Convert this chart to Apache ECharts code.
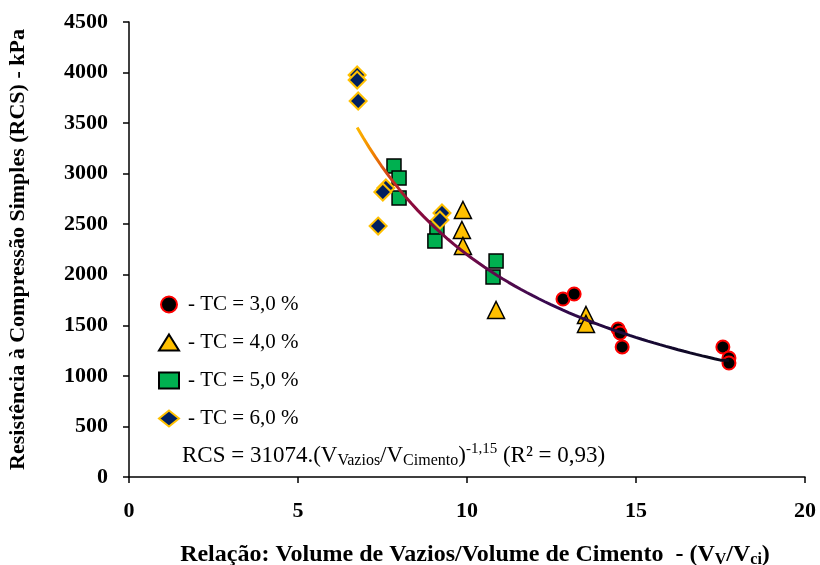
<!DOCTYPE html>
<html>
<head>
<meta charset="utf-8">
<script src="https://cdn.jsdelivr.net/npm/echarts@6/dist/echarts.min.js"></script>
<style>
  html, body { margin: 0; padding: 0; background: #fff; }
  #chart { width: 820px; height: 565px; }
</style>
</head>
<body>
<div id="chart"></div>
<script>
// Cement content series: [Vv/Vci, RCS (kPa)]
const tc3 = [[12.84, 1760], [13.17, 1810], [14.47, 1464], [14.53, 1424], [14.59, 1286],
             [17.57, 1286], [17.75, 1177], [17.75, 1127]];
const tc4 = [[9.88, 2641], [9.85, 2443], [9.88, 2285], [10.86, 1652], [13.52, 1602], [13.52, 1513]];
const tc5 = [[7.84, 3076], [7.99, 2957], [7.99, 2759], [9.11, 2463], [9.05, 2334],
             [10.86, 2136], [10.77, 1978]];
const tc6 = [[6.75, 3976], [6.75, 3926], [6.78, 3719], [7.60, 2858], [7.51, 2819],
             [7.37, 2482], [9.26, 2611], [9.20, 2542]];

const seriesNames = ['- TC = 3,0 %', '- TC = 4,0 %', '- TC = 5,0 %', '- TC = 6,0 %'];
const yTicks = [0, 500, 1000, 1500, 2000, 2500, 3000, 3500, 4000, 4500];
const xTicks = [0, 5, 10, 15, 20];

// Power-law fit RCS = a * (Vv/Vci)^b
const fitA = 31074;
const fitB = -1.15;
const fitFrom = 6.75;
const fitTo = 17.5;
const fitEndX = 17.75;

const fitLine = [];
for (let i = 0; i <= 60; i++) {
  const x = fitFrom + (fitTo - fitFrom) * i / 60;
  fitLine.push([x, fitA * Math.pow(x, fitB)]);
}
fitLine.push([fitEndX, fitA * Math.pow(fitTo, fitB)]);

const serif = '"Liberation Serif", "Times New Roman", serif';

const chart = echarts.init(document.getElementById('chart'), null, { renderer: 'canvas' });

chart.setOption({
  animation: false,
  backgroundColor: '#ffffff',
  grid: { left: 129, right: 15, top: 22, bottom: 88, containLabel: false, outerBoundsMode: 'none' },
  xAxis: {
    type: 'value',
    min: xTicks[0], max: xTicks[xTicks.length - 1], interval: 5,
    splitLine: { show: false },
    axisLine: { show: true, onZero: false, lineStyle: { color: '#000', width: 1.5 } },
    axisTick: { show: true, inside: false, length: 6, lineStyle: { color: '#000', width: 1.5 } },
    axisLabel: { color: '#000', fontFamily: serif, fontWeight: 'bold', fontSize: 22, margin: 23 },
    name: '{t|Relação: Volume de Vazios/Volume de Cimento  - (V}{s|V}{t|/V}{s|ci}{t|)}',
    nameLocation: 'middle',
    nameGap: 66,
    nameTextStyle: {
      padding: [0, 0, 0, 16],
      rich: {
        t: { fontFamily: serif, fontWeight: 'bold', fontSize: 24, color: '#000', verticalAlign: 'top', lineHeight: 25 },
        s: { fontFamily: serif, fontWeight: 'bold', fontSize: 16, color: '#000', verticalAlign: 'bottom', padding: [9, 0, 0, 0], lineHeight: 25 }
      }
    }
  },
  yAxis: {
    type: 'value',
    min: yTicks[0], max: yTicks[yTicks.length - 1], interval: 500,
    splitLine: { show: false },
    axisLine: { show: true, onZero: false, lineStyle: { color: '#000', width: 1.5 } },
    axisTick: { show: true, inside: false, length: 6, lineStyle: { color: '#000', width: 1.5 } },
    axisLabel: {
      color: '#000', fontFamily: serif, fontWeight: 'bold', fontSize: 22, margin: 21,
      formatter: v => String(v)
    },
    name: 'Resistência à Compressão Simples (RCS) - kPa',
    nameLocation: 'middle',
    nameGap: 100,
    nameTextStyle: { color: '#000', fontFamily: serif, fontWeight: 'bold', fontSize: 22 }
  },
  legend: {
    orient: 'vertical',
    left: 153,
    top: 289,
    itemWidth: 20,
    itemHeight: 16,
    itemGap: 17,
    data: seriesNames,
    textStyle: { color: '#000', fontFamily: serif, fontSize: 21, lineHeight: 20, padding: [0, 0, 0, 4] }
  },
  graphic: [{
    type: 'text',
    left: 182,
    top: 442,
    style: {
      text: '{t|RCS = 31074.(V}{s|Vazios}{t|/V}{s|Cimento}{t|)}{p|-1,15}{t| (R² = 0,93)}',
      rich: {
        t: { fontFamily: serif, fontSize: 23, fill: '#000', lineHeight: 27, verticalAlign: 'middle' },
        s: { fontFamily: serif, fontSize: 16, fill: '#000', lineHeight: 27, verticalAlign: 'bottom' },
        p: { fontFamily: serif, fontSize: 15, fill: '#000', lineHeight: 27, verticalAlign: 'top' }
      }
    }
  }],
  series: [
    {
      name: seriesNames[0], type: 'scatter', data: tc3,
      symbol: 'circle', symbolSize: 13,
      itemStyle: { color: '#000000', borderColor: '#ff0000', borderWidth: 2, opacity: 1 }
    },
    {
      name: seriesNames[1], type: 'scatter', data: tc4,
      symbol: 'triangle', symbolSize: 17,
      itemStyle: { color: '#ffc000', borderColor: '#000000', borderWidth: 1.5, opacity: 1 }
    },
    {
      name: seriesNames[2], type: 'scatter', data: tc5,
      symbol: 'rect', symbolSize: 14,
      itemStyle: { color: '#00b050', borderColor: '#000000', borderWidth: 1.5, opacity: 1 }
    },
    {
      name: seriesNames[3], type: 'scatter', data: tc6,
      symbol: 'diamond', symbolSize: 17,
      itemStyle: { color: '#002060', borderColor: '#ffc000', borderWidth: 2, opacity: 1 }
    },
    {
      name: 'ajuste', type: 'line', data: fitLine, z: 5,
      showSymbol: false, symbol: 'none', smooth: false,
      lineStyle: {
        width: 3,
        color: new echarts.graphic.LinearGradient(0, 0, 1, 0, [
          { offset: 0, color: '#ffc000' },
          { offset: 0.05, color: '#f08000' },
          { offset: 0.1, color: '#c83020' },
          { offset: 0.15, color: '#8c0a3c' },
          { offset: 0.32, color: '#6a0a48' },
          { offset: 0.5, color: '#3a0a50' },
          { offset: 0.75, color: '#1a0a38' },
          { offset: 1, color: '#080818' }
        ])
      }
    }
  ]
});
</script>
</body>
</html>
